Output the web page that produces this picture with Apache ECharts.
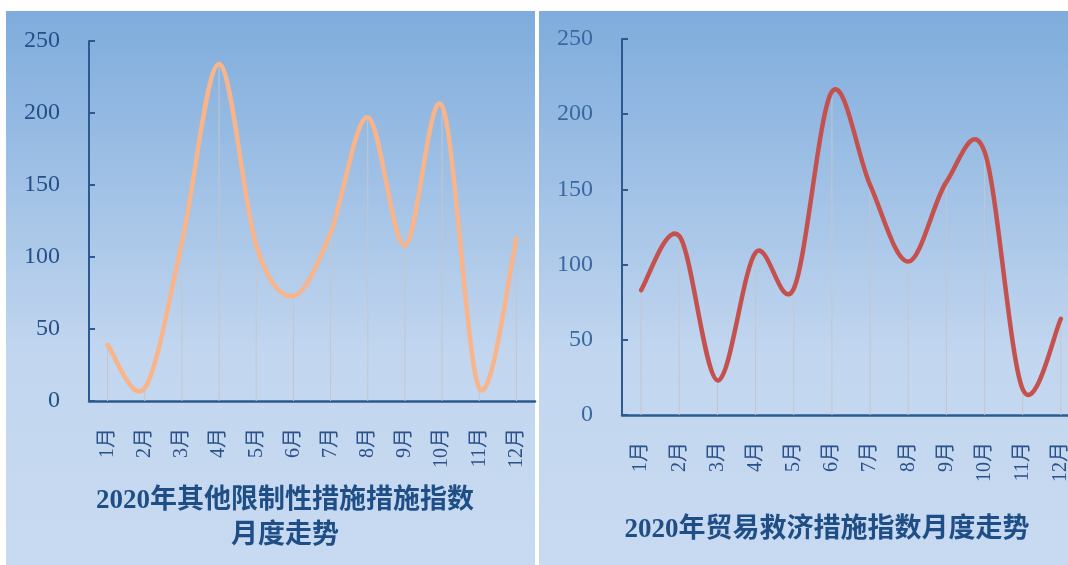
<!DOCTYPE html>
<html><head><meta charset="utf-8">
<script src="https://cdn.jsdelivr.net/npm/echarts@6/dist/echarts.min.js"></script>
<style>html,body{margin:0;padding:0;background:#fff;overflow:hidden;width:1068px;height:565px;}#c{width:1090px;height:565px;}</style>
</head><body><div id="c"></div>
<script>
const months = ['1月','2月','3月','4月','5月','6月','7月','8月','9月','10月','11月','12月'];
const otherRestrictive = [39, 9, 110, 234, 108, 73, 117, 197, 108, 205, 9, 113];
const tradeRemedy = [83, 119, 23, 108, 84, 215, 153, 102, 155, 175, 17, 64];
const yTicks = [0, 50, 100, 150, 200, 250];
const titleLeft = '2020年其他限制性措施措施指数\n月度走势';
const titleRight = '2020年贸易救济措施指数月度走势';

const serif = "'Liberation Serif', 'Times New Roman', 'Noto Sans CJK SC', serif";
const titleFont = "'Liberation Serif', 'Noto Sans CJK SC', serif";
const axisColor = '#2c5a90';
const bgFill = {type:'linear', x:0, y:0, x2:0, y2:1, colorStops:[
  {offset:0, color:'#7eacdc'}, {offset:0.62, color:'#c2d6ef'}, {offset:1, color:'#c7daf1'}]};

function yAxis(idx, labelColor){
  return {type:'value', gridIndex:idx, min:yTicks[0], max:yTicks[yTicks.length-1], interval:50,
    axisLine:{show:true, lineStyle:{color:axisColor, width:2}},
    axisTick:{show:true, inside:true, length:6, lineStyle:{color:axisColor, width:2}},
    splitLine:{show:false},
    axisLabel:{color:labelColor, fontFamily:serif, fontSize:24, margin:29}};
}
function xAxis(idx){
  return {type:'category', gridIndex:idx, data:months, boundaryGap:true,
    axisLine:{show:true, lineStyle:{color:axisColor, width:2.5}},
    axisTick:{show:false},
    axisLabel:{rotate:90, color:'#2a5189', fontFamily:serif, fontSize:20, margin:27, interval:0}};
}
// smoothed curve (Excel-like cardinal spline) through the data points, positioned by the axes
function curveSeries(idx, values, color){
  return {type:'custom', xAxisIndex:idx, yAxisIndex:idx, silent:true, z:3,
    data: values.map((v,i)=>[i,v]), encode:{x:0, y:1}, clip:false,
    renderItem(params, api){
      if (params.dataIndex !== 0) return null;
      const pts = values.map((v,i)=>api.coord([i, v]));
      const n = pts.length;
      let d = 'M' + pts[0][0] + ',' + pts[0][1];
      for (let i = 0; i < n - 1; i++){
        const p0 = pts[Math.max(i-1,0)], p1 = pts[i], p2 = pts[i+1], p3 = pts[Math.min(i+2,n-1)];
        const c1x = p1[0] + (p2[0]-p0[0])/6, c1y = p1[1] + (p2[1]-p0[1])/6;
        const c2x = p2[0] - (p3[0]-p1[0])/6, c2y = p2[1] - (p3[1]-p1[1])/6;
        d += ' C' + c1x + ',' + c1y + ' ' + c2x + ',' + c2y + ' ' + p2[0] + ',' + p2[1];
      }
      return {type:'path', shape:{pathData:d},
        style:{fill:'none', stroke:color, lineWidth:4.5, lineCap:'round', lineJoin:'round'}};
    }};
}

const chart = echarts.init(document.getElementById('c'), null, {renderer:'canvas'});
chart.setOption({
  animation:false,
  backgroundColor:'#ffffff',
  graphic:[
    {type:'rect', z:-100, silent:true, shape:{x:6, y:11, width:529, height:554}, style:{fill:bgFill}},
    {type:'rect', z:-100, silent:true, shape:{x:539, y:11, width:529, height:554}, style:{fill:bgFill}}
  ],
  title:[
    {text:titleLeft, left:280, top:479, textAlign:'center',
     textStyle:{fontFamily:titleFont, fontWeight:'bold', fontSize:27, lineHeight:35, color:'#1f4e86'}},
    {text:titleRight, left:822, top:508, textAlign:'center',
     textStyle:{fontFamily:titleFont, fontWeight:'bold', fontSize:27, lineHeight:35, color:'#1f4e86'}}
  ],
  grid:[
    {left:89, top:41, width:446, bottom:164},
    {left:622, top:39, width:458, bottom:150}
  ],
  xAxis:[xAxis(0), xAxis(1)],
  yAxis:[yAxis(0,'#24508a'), yAxis(1,'#3a69a2')],
  series:[
    {type:'bar', xAxisIndex:0, yAxisIndex:0, data:otherRestrictive, barWidth:1, itemStyle:{color:'#c3c7cc'}, silent:true, z:1},
    curveSeries(0, otherRestrictive, '#f9b48a'),
    {type:'bar', xAxisIndex:1, yAxisIndex:1, data:tradeRemedy, barWidth:1, itemStyle:{color:'#c3c7cc'}, silent:true, z:1},
    curveSeries(1, tradeRemedy, '#c5514f')
  ]
});
</script></body></html>
